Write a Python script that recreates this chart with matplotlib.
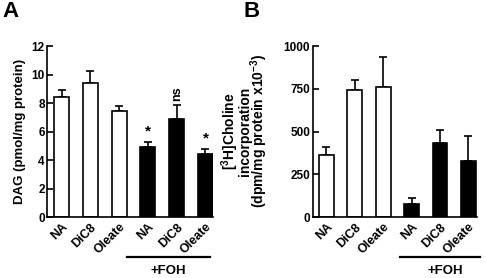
import matplotlib
matplotlib.use('Agg')
import matplotlib.pyplot as plt
import matplotlib.transforms as mtransforms

plt.rcParams['font.family'] = ['Liberation Sans', 'DejaVu Sans']
plt.rcParams['font.weight'] = 'bold'
plt.rcParams['axes.labelweight'] = 'bold'
plt.rcParams['mathtext.fontset'] = 'custom'
plt.rcParams['mathtext.rm'] = 'Liberation Sans:bold'
plt.rcParams['mathtext.bf'] = 'Liberation Sans:bold'
plt.rcParams['mathtext.default'] = 'bf'

# data
labels = ['NA', 'DiC8', 'Oleate', 'NA', 'DiC8', 'Oleate']
colors = ['white', 'white', 'white', 'black', 'black', 'black']

dag_mean = [8.4, 9.4, 7.47, 4.9, 6.89, 4.45]
dag_err = [0.5, 0.88, 0.35, 0.37, 0.98, 0.35]
dag_marks = ['*', 'ns', '*']

chol_mean = [365, 741, 760, 77, 435, 329]
chol_err = [42, 58, 178, 33, 74, 145]

x = list(range(len(labels)))

fig = plt.figure(figsize=(4.86, 2.78), dpi=100)
axA = fig.add_axes([0.0977, 0.2194, 0.3405, 0.615])
axB = fig.add_axes([0.644, 0.2194, 0.3374, 0.615])


def draw(ax, mean, err, ylim, yticks, xlim):
    ax.bar(x, mean, width=0.52, color=colors, edgecolor='black', linewidth=1.2, zorder=2)
    ax.errorbar(x, mean, yerr=[[0] * len(err), err], fmt='none', ecolor='black',
                elinewidth=1.2, capsize=3.2, capthick=1.2, zorder=1)
    ax.set_xlim(*xlim)
    ax.set_ylim(*ylim)
    ax.set_yticks(yticks)
    ax.set_yticklabels([str(t) for t in yticks], fontsize=8.5, fontweight='bold')
    ax.set_xticks(x)
    ax.set_xticklabels(labels, rotation=45, ha='right', rotation_mode='anchor',
                       fontsize=9, fontweight='bold')
    ax.tick_params(axis='y', direction='in', length=4, width=1.2, pad=2)
    ax.tick_params(axis='x', length=0, pad=3)
    for s in ['top', 'right']:
        ax.spines[s].set_visible(False)
    for s in ['left', 'bottom']:
        ax.spines[s].set_linewidth(1.2)


draw(axA, dag_mean, dag_err, (0, 12), [0, 2, 4, 6, 8, 10, 12], (-0.49, 5.26))
draw(axB, chol_mean, chol_err, (0, 1000), [0, 250, 500, 750, 1000], (-0.475, 5.3))

axA.set_ylabel('DAG (pmol/mg protein)', fontsize=9.5, fontweight='bold')
axA.yaxis.set_label_coords(-0.13, 0.5)
axB.set_ylabel('[$^{3}$H]Choline\nincorporation\n(dpm/mg protein x10$^{-3}$)',
               fontsize=10, fontweight='bold', linespacing=0.72)
axB.yaxis.set_label_coords(-0.265, 0.5)

# significance marks above the +FOH bars
axA.text(3, dag_mean[3] + dag_err[3] + 0.25, dag_marks[0], ha='center', va='bottom',
         fontsize=11, fontweight='bold')
axA.text(4, dag_mean[4] + dag_err[4] + 0.3, dag_marks[1], ha='center', va='bottom',
         rotation=90, fontsize=9, fontweight='bold')
axA.text(5, dag_mean[5] + dag_err[5] + 0.25, dag_marks[2], ha='center', va='bottom',
         fontsize=11, fontweight='bold')

# +FOH group bracket
for ax, x0, x1, xc in [(axA, 2.27, 5.16, 3.7), (axB, 2.59, 5.41, 4.17)]:
    tr = mtransforms.blended_transform_factory(ax.transData, ax.transAxes)
    ax.plot([x0, x1], [-0.234, -0.234], color='black', linewidth=1.6,
            transform=tr, clip_on=False)
    ax.text(xc, -0.315, '+FOH', transform=tr, ha='center', va='center',
            fontsize=9.5, fontweight='bold')

fig.text(0.004, 0.995, 'A', fontsize=16, fontweight='bold', va='top', ha='left')
fig.text(0.502, 0.995, 'B', fontsize=16, fontweight='bold', va='top', ha='left')

fig.savefig('out.png', dpi=100)
